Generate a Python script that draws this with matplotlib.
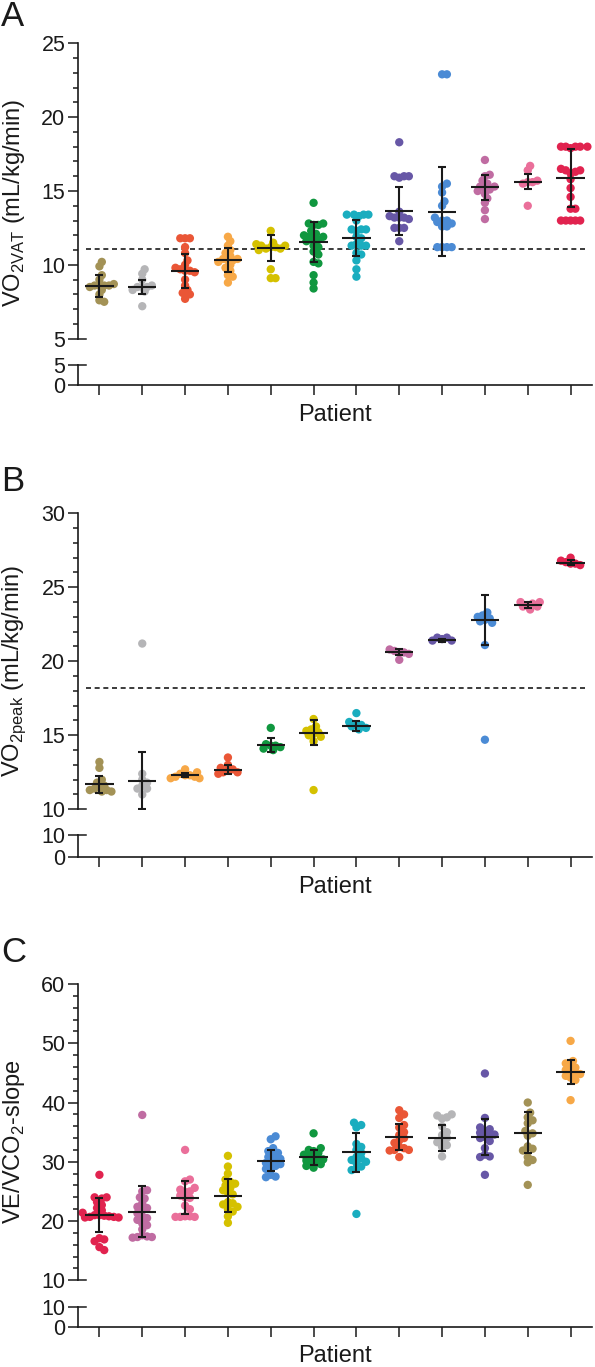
import matplotlib
matplotlib.use("Agg")
import matplotlib.pyplot as plt
import matplotlib.transforms as mtransforms
from matplotlib.ticker import MultipleLocator
import numpy as np

plt.rcParams["font.family"] = ["Liberation Sans", "DejaVu Sans"]
plt.rcParams["mathtext.fontset"] = "custom"
plt.rcParams["mathtext.rm"] = "Liberation Sans"

W, H = 595, 1367

OLIVE = "#a39256"
GRAY = "#b5b5b7"
RED = "#ea5636"
ORANGE = "#f7a847"
YELLOW = "#d5c100"
GREEN = "#10973f"
TEAL = "#1aadbf"
PURPLE = "#6757a6"
BLUE = "#4b8bd5"
MAUVE = "#c06ca2"
PINK = "#ea6f9a"
CRIMSON = "#e1234f"

# ---- panel A: VO2 at VAT ----
a_colors = [OLIVE, GRAY, RED, ORANGE, YELLOW, GREEN, TEAL, PURPLE, BLUE, MAUVE, PINK, CRIMSON]
a_values = [
    [10.2, 9.9, 9.3, 9.0, 8.7, 8.6, 8.6, 8.6, 8.6, 8.5, 8.3, 8.0, 7.6, 7.5],
    [9.7, 9.4, 9.0, 8.6, 8.5, 8.5, 8.5, 8.3, 8.2, 7.2],
    [11.8, 11.8, 11.8, 11.2, 10.8, 10.3, 10.0, 9.8, 9.7, 9.6, 9.6, 9.5, 9.0, 8.6, 8.3, 8.1, 8.0, 7.7],
    [11.9, 11.6, 11.3, 11.0, 10.8, 10.6, 10.4, 10.4, 10.3, 10.3, 10.2, 10.0, 9.8, 9.6, 9.3, 9.2, 8.8],
    [12.3, 11.5, 11.4, 11.3, 11.3, 11.2, 11.2, 11.1, 11.1, 11.0, 9.7, 9.1, 9.1],
    [14.2, 12.8, 12.8, 12.7, 12.7, 12.3, 12.1, 12.0, 11.9, 11.9, 11.8, 11.7, 11.6, 11.3, 11.2,
     10.9, 10.7, 10.2, 10.1, 9.3, 8.8, 8.4],
    [13.4, 13.4, 13.4, 13.4, 13.3, 13.0, 12.4, 12.4, 12.4, 12.3, 11.9, 11.8, 11.4, 11.3, 11.3,
     11.3, 10.8, 10.7, 10.3, 9.7, 9.2],
    [18.3, 16.0, 16.0, 16.0, 15.9, 13.6, 13.3, 13.2, 13.2, 13.2, 13.1, 12.5, 12.5, 12.5, 11.6],
    [22.9, 22.9, 15.5, 15.3, 14.9, 14.3, 14.0, 13.2, 13.0, 13.0, 12.9, 12.8, 12.6, 12.6,
     11.2, 11.2, 11.2, 11.2],
    [17.1, 16.1, 16.0, 15.7, 15.5, 15.3, 15.3, 15.2, 15.1, 15.0, 14.8, 14.5, 14.2, 13.7, 13.1],
    [16.7, 16.4, 15.7, 15.6, 15.6, 15.5, 14.0],
    [18.0, 18.0, 18.0, 18.0, 18.0, 17.9, 16.5, 16.4, 16.4, 16.3, 16.2, 15.8, 15.2, 14.6,
     13.8, 13.8, 13.0, 13.0, 13.0, 13.0, 13.0],
]
a_means = [8.59, 8.52, 9.58, 10.33, 11.12, 11.52, 11.79, 13.65, 13.6, 15.24, 15.63, 15.86]
a_sds = [0.74, 0.48, 1.13, 0.82, 0.87, 1.36, 1.22, 1.6, 3.03, 0.83, 0.51, 1.96]
a_ref = 11.1

# ---- panel B: peak VO2 ----
b_colors = [OLIVE, GRAY, ORANGE, RED, GREEN, YELLOW, TEAL, MAUVE, PURPLE, BLUE, PINK, CRIMSON]
b_values = [
    [13.2, 12.8, 12.0, 11.8, 11.6, 11.5, 11.4, 11.3, 11.3, 11.2, 11.2],
    [21.2, 12.4, 12.0, 11.8, 11.6, 11.4, 11.4, 11.0],
    [12.7, 12.5, 12.4, 12.3, 12.3, 12.2, 12.2, 12.1, 12.1],
    [13.5, 13.0, 12.8, 12.7, 12.6, 12.5, 12.5, 12.4],
    [15.5, 14.4, 14.3, 14.3, 14.2, 14.1, 14.0],
    [16.1, 15.6, 15.4, 15.3, 15.2, 15.1, 15.0, 14.9, 14.6, 11.3],
    [16.5, 15.9, 15.7, 15.7, 15.6, 15.5, 15.4],
    [20.8, 20.7, 20.6, 20.6, 20.5, 20.1],
    [21.6, 21.6, 21.5, 21.4, 21.4],
    [23.3, 23.1, 23.0, 22.9, 22.8, 22.7, 22.6, 21.1, 14.7],
    [24.0, 24.0, 23.9, 23.8, 23.7, 23.7, 23.5],
    [27.0, 26.8, 26.7, 26.6, 26.6, 26.5],
]
b_means = [11.69, 11.94, 12.32, 12.66, 14.35, 15.18, 15.65, 20.61, 21.42, 22.79, 23.81, 26.67]
b_sds = [0.58, 1.93, 0.16, 0.3, 0.45, 0.83, 0.33, 0.21, 0.09, 1.72, 0.21, 0.15]
b_ref = 18.2

# ---- panel C: VE/VCO2 slope ----
c_colors = [CRIMSON, MAUVE, PINK, YELLOW, BLUE, GREEN, TEAL, RED, GRAY, PURPLE, OLIVE, ORANGE]
c_values = [
    [27.8, 24.0, 24.0, 23.8, 23.2, 22.7, 22.2, 21.8, 21.4, 21.0, 21.0, 20.9, 20.8, 20.7, 20.7,
     20.6, 20.6, 17.1, 16.9, 16.6, 15.6, 15.1],
    [37.9, 25.2, 25.0, 24.0, 23.8, 23.0, 22.4, 22.2, 21.8, 21.3, 20.8, 20.5, 20.2, 19.6, 19.3,
     18.6, 17.6, 17.4, 17.3, 17.3, 17.2],
    [32.0, 27.0, 26.7, 25.6, 25.3, 25.0, 24.9, 24.3, 24.0, 23.9, 22.6, 22.0, 20.8, 20.8, 20.7,
     20.7, 20.7],
    [31.0, 29.2, 28.0, 27.0, 26.6, 26.3, 26.0, 25.6, 25.2, 24.8, 24.5, 23.2, 23.0, 22.8, 22.4,
     22.0, 21.6, 20.8, 19.7],
    [34.3, 33.8, 32.3, 31.8, 31.5, 31.2, 30.8, 30.5, 30.3, 30.0, 29.8, 29.6, 29.3, 29.0, 28.8,
     27.8, 27.5, 27.4],
    [34.8, 32.3, 32.0, 31.8, 31.5, 31.2, 31.0, 30.8, 30.6, 30.4, 30.2, 30.0, 29.8, 29.6, 29.3, 29.0],
    [36.6, 36.2, 35.8, 33.0, 32.5, 32.0, 31.5, 30.8, 30.6, 30.3, 30.0, 29.8, 29.2, 28.9, 28.6, 21.2],
    [38.7, 38.0, 37.4, 36.2, 35.8, 35.0, 34.5, 34.0, 33.6, 33.2, 32.5, 32.3, 32.0, 32.0, 31.9, 30.8],
    [38.0, 37.8, 37.5, 37.3, 36.0, 35.0, 34.5, 34.0, 33.5, 33.3, 32.8, 32.5, 30.9],
    [44.9, 37.4, 35.8, 35.5, 35.2, 34.9, 34.6, 34.4, 34.2, 34.0, 33.5, 32.3, 31.2, 30.9, 30.8, 27.8],
    [40.0, 38.3, 37.5, 37.0, 36.5, 35.2, 34.8, 34.4, 32.6, 32.2, 31.9, 30.8, 30.3, 29.9, 26.1],
    [50.4, 47.0, 46.6, 46.2, 45.9, 45.5, 45.2, 45.0, 44.8, 44.5, 44.2, 43.8, 40.4],
]
c_means = [21.02, 21.59, 23.95, 24.3, 30.2, 30.75, 31.6, 34.18, 34.07, 34.24, 34.9, 45.1]
c_sds = [2.82, 4.3, 2.73, 2.8, 1.8, 1.27, 3.25, 2.25, 2.2, 3.05, 3.5, 2.05]


def px_axes(fig, left, top, right, bottom):
    return fig.add_axes([left / W, 1 - bottom / H, (right - left) / W, (bottom - top) / H])


def swarm_offsets(ax, xc, values, min_sep=4.8, step=2.4):
    pts = ax.transData.transform(np.column_stack([np.full(len(values), xc), values]))
    ys = pts[:, 1]
    x_scale = ax.transData.transform([(1, 0)])[0, 0] - ax.transData.transform([(0, 0)])[0, 0]
    placed = []
    offs = np.zeros(len(values))
    for i in np.argsort(np.abs(np.asarray(values) - np.median(values))):
        for j in range(0, 60):
            cands = [0.0] if j == 0 else [j * step, -j * step]
            ok = None
            for c in cands:
                if all((c - px) ** 2 + (ys[i] - py) ** 2 >= min_sep ** 2 for px, py in placed):
                    ok = c
                    break
            if ok is not None:
                break
        placed.append((ok, ys[i]))
        offs[i] = ok / x_scale
    return offs


def draw_panel(fig, letter, top_px, bot_px, low_top, low_bot, ylim, lowlim, major, minor,
               values, means, sds, colors, ylabel, ylabel_y, patient_y, letter_y, ref=None):
    left, right = 78, 592
    ax = px_axes(fig, left, top_px, right, bot_px)
    axl = px_axes(fig, left, low_top, right, low_bot)
    n = len(values)
    for a in (ax, axl):
        a.set_xlim(-0.5, n - 0.5)
        for s in ("top", "right"):
            a.spines[s].set_visible(False)
        for s in ("left", "bottom"):
            a.spines[s].set_linewidth(1.2)
            a.spines[s].set_color("#1a1a1a")
        a.patch.set_alpha(0)
        a.tick_params(axis="y", labelsize=15.5, width=1.1, length=7, pad=2, colors="#1a1a1a")
        a.tick_params(axis="y", which="minor", width=1.1, length=3.5, colors="#1a1a1a")
    ax.spines["bottom"].set_visible(False)
    ax.set_ylim(*ylim)
    ax.yaxis.set_major_locator(MultipleLocator(major))
    ax.yaxis.set_minor_locator(MultipleLocator(minor))
    ax.set_xticks([])
    axl.set_ylim(*lowlim)
    axl.set_yticks(list(lowlim))
    axl.spines["left"].set_bounds(*lowlim)
    axl.set_xticks(np.arange(n))
    axl.set_xticklabels([])
    axl.tick_params(axis="x", width=1.1, length=7, colors="#1a1a1a")

    # break marks: tick continues inward at the cut ends
    tl = 7.5 / (right - left)
    for a, yv in ((ax, ylim[0]), (axl, lowlim[1])):
        tr = mtransforms.blended_transform_factory(a.transAxes, a.transData)
        a.plot([0, tl], [yv, yv], color="#1a1a1a", lw=1.1, transform=tr, clip_on=False)

    if ref is not None:
        ax.hlines(ref, -0.32, n - 0.6, colors="#1a1a1a", linestyles=(0, (3.0, 2.2)), lw=1.2, zorder=1)

    for i, (vals, m, sd, col) in enumerate(zip(values, means, sds, colors)):
        offs = swarm_offsets(ax, i, vals)
        ax.scatter(i + offs, vals, s=36, color=col, edgecolors="none", zorder=2, clip_on=False)
        ax.hlines(m, i - 0.33, i + 0.33, colors="#1a1a1a", lw=1.5, zorder=3)
        ax.errorbar(i, m, yerr=sd, fmt="none", ecolor="#1a1a1a", elinewidth=1.5,
                    capsize=3.2, capthick=1.5, zorder=3)

    fig.text(14 / W, 1 - ylabel_y / H, ylabel, rotation=90, ha="center", va="center",
             fontsize=17, color="#1a1a1a")
    fig.text((left + right) / 2 / W, 1 - patient_y / H, "Patient", ha="center", va="center",
             fontsize=17, color="#1a1a1a")
    fig.text(1 / W, 1 - letter_y / H, letter, ha="left", va="center", fontsize=25, color="#1a1a1a")


fig = plt.figure(figsize=(W / 100, H / 100), dpi=100)

draw_panel(fig, "A", 43.3, 338.7, 365, 385, (5, 25), (0, 5), 5, 1,
           a_values, a_means, a_sds, a_colors,
           r"VO$_{\mathregular{2VAT}}$ (mL/kg/min)", 203, 415, 17, ref=a_ref)
draw_panel(fig, "B", 513.3, 809.3, 835, 856.7, (10, 30), (0, 10), 5, 1,
           b_values, b_means, b_sds, b_colors,
           r"VO$_{\mathregular{2peak}}$ (mL/kg/min)", 671, 887, 481, ref=b_ref)
draw_panel(fig, "C", 984, 1280.3, 1306.7, 1327.3, (10, 60), (0, 10), 10, 2,
           c_values, c_means, c_sds, c_colors,
           r"VE/VCO$_{\mathregular{2}}$-slope", 1142, 1356, 953)

fig.savefig("out.png", dpi=100)
